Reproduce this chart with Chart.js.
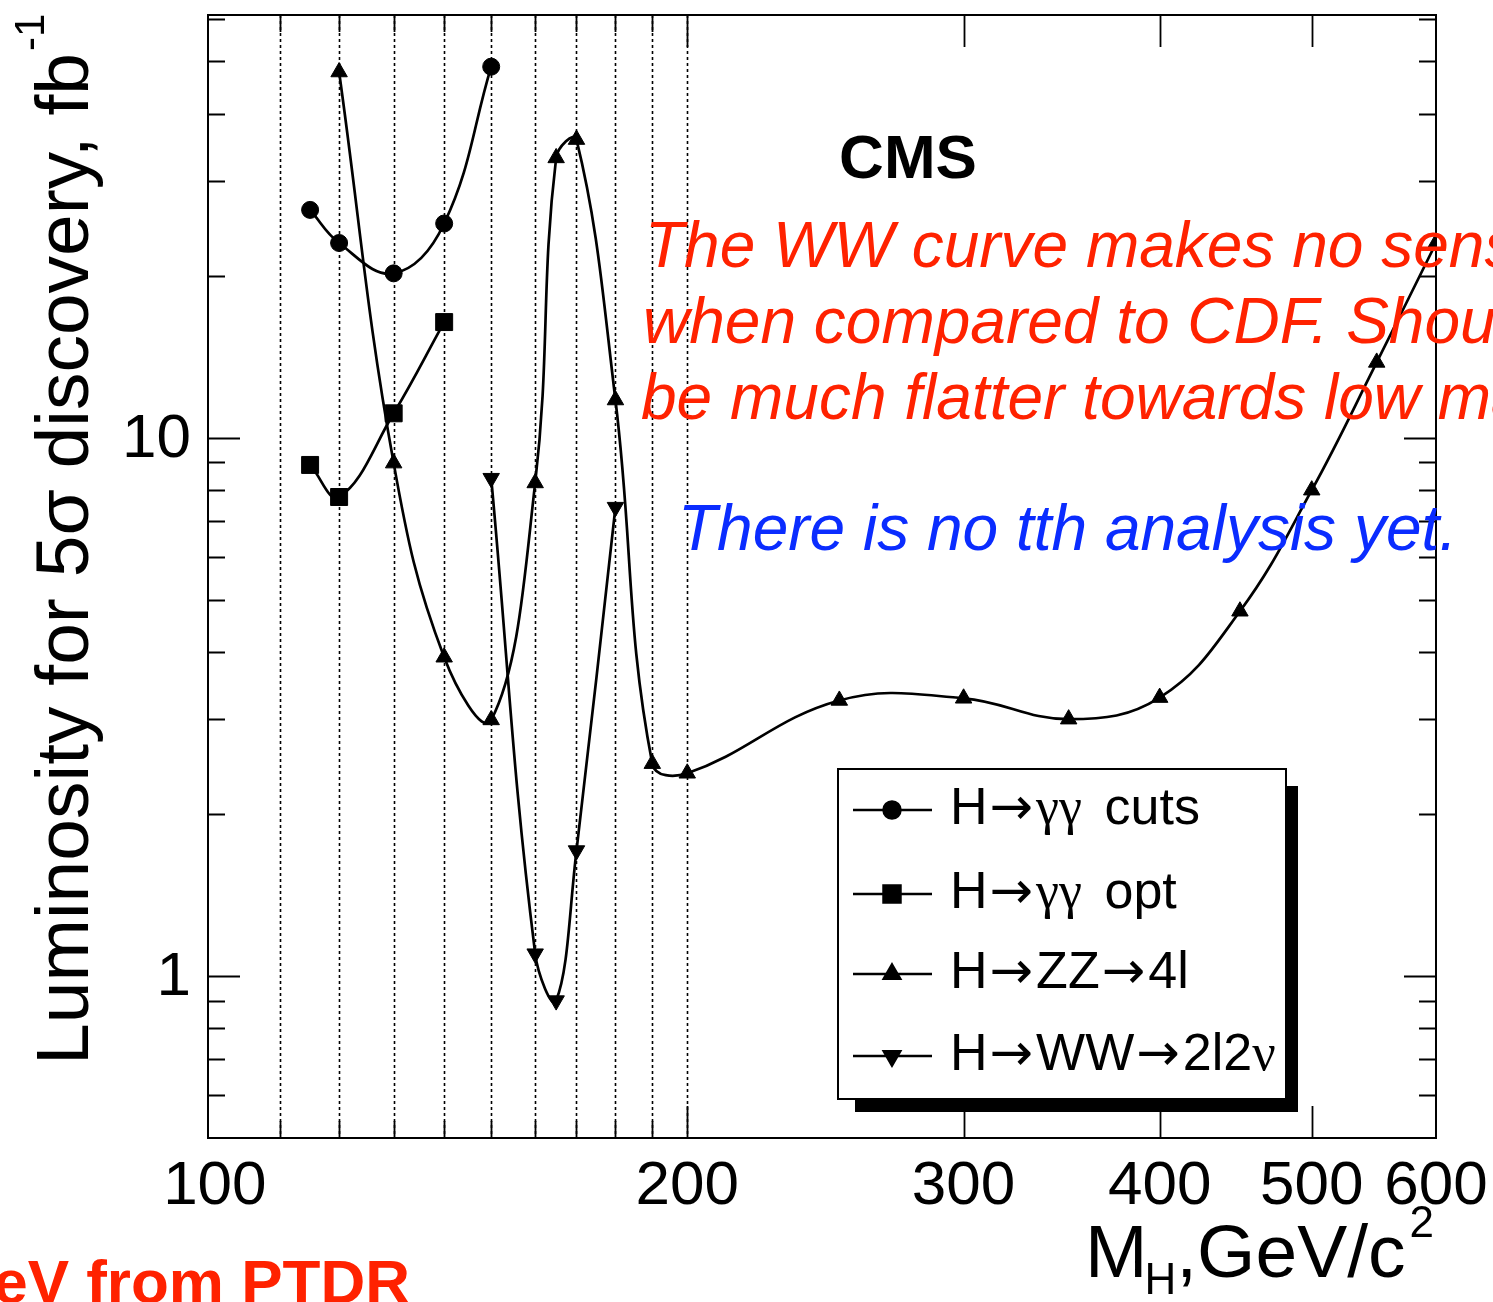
<!DOCTYPE html>
<html>
<head>
<meta charset="utf-8">
<script src="https://cdn.jsdelivr.net/npm/chart.js@4.4.0/dist/chart.umd.min.js"></script>
<style>
  body { margin: 0; background: #fff; }
  #wrap { width: 1493px; height: 1302px; position: relative; }
</style>
</head>
<body>
<div id="wrap"><canvas id="myChart" width="1493" height="1302"></canvas></div>
<script>
// values
const massGgCuts = [115, 120, 130, 140, 150]
const lumiGgCuts = [26.5, 23.0, 20.2, 25.0, 48.9]
const massGgOpt = [115, 120, 130, 140]
const lumiGgOpt = [8.9, 7.76, 11.1, 16.4]
const massZZ = [120, 130, 140, 150, 160, 165, 170, 180, 190, 200, 250, 300, 350, 400, 450, 500, 550, 600]
const lumiZZ = [47.8, 8.97, 3.91, 2.99, 8.24, 33.1, 35.8, 11.75, 2.48, 2.38, 3.25, 3.28, 3.0, 3.29, 4.76, 7.99, 13.8, 23]
const massWW = [150, 160, 165, 170, 180]
const lumiWW = [8.41, 1.10, 0.90, 1.71, 7.43]
const etiquetas = ['H→γγ cuts', 'H→γγ opt', 'H→ZZ→4l', 'H→WW→2l2ν']
const xTickLabels = [100, 200, 300, 400, 500, 600]
const yTickLabels = [1, 10]
const lineasMasa = [110, 120, 130, 140, 150, 160, 170, 180, 190, 200]

const fuente = "'Liberation Sans', Arial, Helvetica, sans-serif"
const rojo = '#ff2200'
const azul = '#0a2cff'

function puntos(xs, ys){
    return xs.map((x, i) => ({x: x, y: ys[i]}))
}

function serie(label, xs, ys, estilo, radio, rotacion){
    return {
        label: label,
        data: puntos(xs, ys),
        borderColor: '#000',
        backgroundColor: '#000',
        borderWidth: 2.7,
        tension: 0.4,
        pointStyle: estilo,
        pointRadius: radio,
        pointRotation: rotacion,
        pointBackgroundColor: '#000',
        pointBorderColor: '#000',
        pointBorderWidth: 1
    }
}

// texto de leyenda con flechas largas y letras griegas tipo Symbol
function textoRoot(ctx, texto, x, y, tam){
    let cx = x
    for (const c of texto){
        let extra = 0
        if (c === '→') {
            ctx.font = tam + "px 'DejaVu Sans', sans-serif"
            extra = 3
            cx += 2
        } else if (c === 'γ' || c === 'ν') {
            ctx.font = tam + "px 'Liberation Serif', 'DejaVu Serif', serif"
        } else {
            ctx.font = tam + 'px ' + fuente
        }
        if (c === ' ') extra = 8
        ctx.fillText(c, cx, y)
        cx += ctx.measureText(c).width + extra
    }
}

/*
    lineas punteadas verticales en las masas escaneadas
*/
const pluginLineas = {
    id: 'lineasMasa',
    beforeDatasetsDraw(chart){
        const ctx = chart.ctx
        const a = chart.chartArea
        const x = chart.scales.x
        ctx.save()
        ctx.strokeStyle = '#000'
        ctx.lineWidth = 1.6
        ctx.setLineDash([3, 3])
        for (const m of lineasMasa){
            const px = Math.round(x.getPixelForValue(m)) + 0.5
            ctx.beginPath()
            ctx.moveTo(px, a.top)
            ctx.lineTo(px, a.bottom)
            ctx.stroke()
        }
        ctx.restore()
    }
}

/*
    marco, ticks y etiquetas estilo ROOT
*/
const pluginEjes = {
    id: 'ejesRoot',
    afterDatasetsDraw(chart){
        const ctx = chart.ctx
        const a = chart.chartArea
        const x = chart.scales.x
        const y = chart.scales.y
        ctx.save()
        ctx.strokeStyle = '#000'
        ctx.lineWidth = 2
        ctx.strokeRect(a.left, a.top, a.right - a.left, a.bottom - a.top)

        ctx.lineWidth = 1.8
        // ticks eje y (ambos lados)
        const ticksY = []
        for (let d of [0.1, 1, 10]){
            for (let k = 1; k <= 9; k++){
                const v = k * d
                if (v > 0.5 && v < 61) ticksY.push({v: v, mayor: k === 1})
            }
        }
        for (const t of ticksY){
            const py = Math.round(y.getPixelForValue(t.v)) + 0.5
            const largo = t.mayor ? 32 : 17
            ctx.beginPath()
            ctx.moveTo(a.left, py); ctx.lineTo(a.left + largo, py)
            ctx.moveTo(a.right, py); ctx.lineTo(a.right - largo, py)
            ctx.stroke()
        }
        // ticks eje x
        const ticksX = []
        for (const m of lineasMasa) ticksX.push({v: m, mayor: m === 200})
        for (const m of [300, 400, 500]) ticksX.push({v: m, mayor: true})
        for (const t of ticksX){
            const px = Math.round(x.getPixelForValue(t.v)) + 0.5
            const largo = t.mayor ? 32 : 17
            ctx.beginPath()
            ctx.moveTo(px, a.bottom); ctx.lineTo(px, a.bottom - largo)
            ctx.moveTo(px, a.top); ctx.lineTo(px, a.top + largo)
            ctx.stroke()
        }

        // etiquetas
        ctx.fillStyle = '#000'
        ctx.font = '62px ' + fuente
        ctx.textAlign = 'center'
        ctx.textBaseline = 'alphabetic'
        for (const v of xTickLabels){
            ctx.fillText(String(v), x.getPixelForValue(v), 1204)
        }
        ctx.textAlign = 'right'
        ctx.textBaseline = 'middle'
        for (const v of yTickLabels){
            ctx.fillText(String(v), 191, y.getPixelForValue(v) + 2)
        }

        // titulo eje y
        ctx.save()
        ctx.translate(88, 1065)
        ctx.rotate(-Math.PI / 2)
        ctx.textAlign = 'left'
        ctx.textBaseline = 'alphabetic'
        ctx.font = '75px ' + fuente
        const tituloY = 'Luminosity for 5σ discovery, fb'
        ctx.fillText(tituloY, 0, 0)
        const w = ctx.measureText(tituloY).width
        ctx.font = '42px ' + fuente
        ctx.fillText('-1', w + 2, -44)
        ctx.restore()

        // titulo eje x
        ctx.textAlign = 'left'
        ctx.textBaseline = 'alphabetic'
        let cx = 1085
        ctx.font = '75px ' + fuente
        ctx.fillText('M', cx, 1277)
        cx += ctx.measureText('M').width
        ctx.font = '44px ' + fuente
        ctx.fillText('H', cx - 3, 1294)
        cx += ctx.measureText('H').width - 3
        ctx.font = '75px ' + fuente
        ctx.fillText(',GeV/c', cx, 1277)
        cx += ctx.measureText(',GeV/c').width
        ctx.font = '44px ' + fuente
        ctx.fillText('2', cx + 4, 1237)
        ctx.restore()
    }
}

/*
    leyenda con sombra y textos del slide
*/
const pluginLeyenda = {
    id: 'leyendaRoot',
    afterDraw(chart){
        const ctx = chart.ctx
        ctx.save()
        const bx = 838, by = 769, bw = 448, bh = 330
        ctx.fillStyle = '#000'
        ctx.fillRect(bx + bw - 6, by + 17, 18, bh - 4)
        ctx.fillRect(bx + 17, by + bh - 6, bw - 5, 19)
        ctx.fillStyle = '#fff'
        ctx.fillRect(bx, by, bw, bh)
        ctx.strokeStyle = '#000'
        ctx.lineWidth = 2
        ctx.strokeRect(bx, by, bw, bh)

        const filas = [810, 894, 974, 1056]
        chart.data.datasets.forEach((ds, i) => {
            const fy = filas[i]
            ctx.strokeStyle = '#000'
            ctx.lineWidth = 2.5
            ctx.beginPath()
            ctx.moveTo(853, fy); ctx.lineTo(932, fy)
            ctx.stroke()
            ctx.fillStyle = '#000'
            Chart.helpers.drawPoint(ctx, {
                pointStyle: ds.pointStyle,
                radius: ds.pointRadius,
                rotation: ds.pointRotation || 0,
                borderWidth: 1
            }, 892, fy)
            ctx.fillStyle = '#000'
            ctx.textAlign = 'left'
            ctx.textBaseline = 'alphabetic'
            textoRoot(ctx, ds.label, 950, fy + 14, 52)
        })

        // CMS
        ctx.fillStyle = '#000'
        ctx.font = 'bold 62px ' + fuente
        ctx.textAlign = 'center'
        ctx.textBaseline = 'alphabetic'
        ctx.fillText('CMS', 908, 178)

        // comentarios
        ctx.textAlign = 'left'
        ctx.font = 'italic 64px ' + fuente
        ctx.fillStyle = rojo
        ctx.fillText('The WW curve makes no sense', 645, 267)
        ctx.fillText('when compared to CDF. Should', 643, 343)
        ctx.fillText('be much flatter towards low mass.', 641, 419)
        ctx.fillStyle = azul
        ctx.fillText('There is no tth analysis yet.', 678, 550)

        ctx.fillStyle = rojo
        ctx.font = 'bold 62px ' + fuente
        ctx.textAlign = 'right'
        ctx.fillText('TeV from PTDR', 410, 1303)
        ctx.restore()
    }
}

function generarGrafico(){
    const grafico = document.getElementById('myChart')
    new Chart(grafico, {
        type: 'line',
        data: {
            datasets: [
                serie(etiquetas[0], massGgCuts, lumiGgCuts, 'circle', 8.5, 0),
                serie(etiquetas[1], massGgOpt, lumiGgOpt, 'rect', 12, 0),
                serie(etiquetas[2], massZZ, lumiZZ, 'triangle', 9.5, 0),
                serie(etiquetas[3], massWW, lumiWW, 'triangle', 9.5, 180)
            ]
        },
        options: {
            responsive: false,
            animation: false,
            layout: { padding: { left: 208, top: 15, right: 57, bottom: 164 } },
            plugins: { legend: { display: false }, tooltip: { enabled: false } },
            scales: {
                x: { type: 'logarithmic', min: 99, max: 600, display: false },
                y: { type: 'logarithmic', min: 0.5, max: 61, display: false }
            }
        },
        plugins: [pluginLineas, pluginEjes, pluginLeyenda]
    })
}
generarGrafico()
</script>
</body>
</html>
